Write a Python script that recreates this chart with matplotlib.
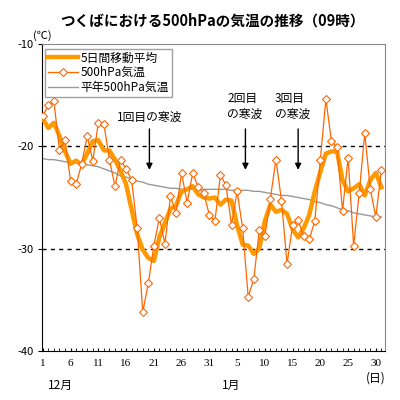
import matplotlib
matplotlib.use('Agg')
import matplotlib.pyplot as plt

plt.rcParams['font.family'] = ['Noto Sans CJK JP', 'DejaVu Sans']

title = 'つくばにおける500hPaの気温の推移（09時）'
tick_labels = ['1', '6', '11', '16', '21', '26', '31', '5', '10', '15', '20', '25', '30']
month_labels = ['12月', '1月']

# 500hPa temperature, Dec 1 .. Jan 31 (09 JST)
temp_500 = [-17.0, -16.0, -15.6, -20.4, -19.4, -23.4, -23.7, -21.7, -19.0, -21.4,
            -17.7, -17.8, -21.3, -23.9, -21.3, -22.2, -23.3, -28.0, -36.2, -33.4,
            -29.7, -27.0, -29.5, -24.9, -26.5, -22.6, -25.5, -22.6, -24.0, -24.6,
            -26.7, -27.3, -22.8, -23.8, -27.7, -24.4, -28.0, -34.7, -33.0, -28.2,
            -28.8, -25.1, -21.3, -25.3, -31.5, -27.7, -27.2, -28.8, -29.1, -27.3,
            -21.3, -15.4, -19.5, -20.1, -26.3, -21.1, -29.7, -24.6, -18.7, -24.2,
            -26.9, -22.3]

# 5-day running mean
ma5 = [-17.3, -18.2, -17.7, -19.0, -20.5, -21.7, -21.4, -21.8, -20.7, -19.5,
       -19.4, -20.4, -20.4, -21.3, -22.4, -23.7, -26.2, -28.6, -30.1, -30.9,
       -31.2, -28.9, -27.5, -26.1, -25.8, -24.4, -24.2, -23.9, -24.7, -25.0,
       -25.1, -25.0, -25.7, -25.2, -25.3, -27.7, -29.6, -29.7, -30.5, -30.0,
       -27.3, -25.7, -26.4, -26.2, -26.6, -28.1, -28.9, -28.0, -26.7, -24.4,
       -22.5, -20.7, -20.5, -20.5, -23.3, -24.4, -24.1, -23.7, -24.8, -23.3,
       -22.6, -24.0]

# climatological normal
normal = [-21.2, -21.3, -21.3, -21.4, -21.5, -21.6, -21.6, -21.7, -21.8, -21.9,
          -22.0, -22.2, -22.4, -22.6, -22.9, -23.0, -23.2, -23.4, -23.5, -23.7,
          -23.8, -23.9, -24.0, -24.1, -24.1, -24.2, -24.2, -24.2, -24.2, -24.2,
          -24.2, -24.2, -24.2, -24.2, -24.3, -24.3, -24.3, -24.3, -24.4, -24.4,
          -24.5, -24.6, -24.7, -24.8, -24.8, -24.9, -25.0, -25.1, -25.2, -25.4,
          -25.5, -25.7, -25.8, -26.0, -26.2, -26.3, -26.5, -26.6, -26.7, -26.8,
          -26.9, -26.9]

wave_labels = ['1回目の寒波', '2回目\nの寒波', '3回目\nの寒波']
wave_days = [19.2, 36.5, 46.0]

fig = plt.figure(figsize=(4, 4), dpi=100)
ax = fig.add_axes([0.105, 0.1225, 0.8575, 0.7675])
x = list(range(len(temp_500)))

ax.axhline(-20, color='black', lw=1, ls=(0, (3, 3)), zorder=1)
ax.axhline(-30, color='black', lw=1, ls=(0, (3, 3)), zorder=1)

ax.plot(x, ma5, color='#FF9900', lw=3.2, label='5日間移動平均', zorder=3,
        solid_joinstyle='round')
ax.plot(x, temp_500, color='#FF6600', lw=0.9, marker='D', ms=4.2,
        mfc='white', mec='#FF6600', mew=0.8, label='500hPa気温', zorder=4)
ax.plot(x, normal, color='#999999', lw=1, label='平年500hPa気温', zorder=2)

ax.set_xlim(-0.15, 61.65)
ax.set_ylim(-40, -10)
ax.set_yticks([-40, -30, -20, -10])
ax.set_yticklabels(['-40', '-30', '-20', '-10'], fontsize=8)
ax.set_xticks(range(0, 61, 5))
ax.set_xticklabels(tick_labels, fontsize=8, family=['Liberation Serif'])
ax.set_xticks(range(0, 62), minor=True)
ax.tick_params(axis='x', which='both', direction='in', length=2, pad=6)
ax.tick_params(axis='y', which='major', direction='out', length=3, pad=3)

for s in ['top', 'right']:
    ax.spines[s].set_color('#888888')
for s in ['left', 'bottom']:
    ax.spines[s].set_color('black')

leg = ax.legend(loc='upper left', bbox_to_anchor=(0.01, 0.985), fontsize=8.5,
                frameon=True, fancybox=False, edgecolor='#888888',
                handlelength=2.5, handletextpad=0.2, labelspacing=0.15,
                borderpad=0.25, borderaxespad=0)
leg.get_frame().set_linewidth(1)

# cold wave annotations
ax.text(wave_days[0], -17.2, wave_labels[0], ha='center', va='center', fontsize=8.5)
ax.text(33.2, -16.1, wave_labels[1], ha='left', va='center', fontsize=8.5, linespacing=1.3)
ax.text(41.8, -16.1, wave_labels[2], ha='left', va='center', fontsize=8.5, linespacing=1.3)
for d in wave_days:
    ax.annotate('', xy=(d, -22.3), xytext=(d, -18.3),
                arrowprops=dict(arrowstyle='-|>', color='black', lw=1,
                                mutation_scale=9, shrinkA=0, shrinkB=0))

fig.text(0.53, 0.9475, title, ha='center', va='center', fontsize=10.5, fontweight='bold')
fig.text(0.105, 0.912, '(℃)', ha='center', va='center', fontsize=8)
fig.text(0.15, 0.0375, month_labels[0], ha='center', va='center', fontsize=8.5)
fig.text(0.5775, 0.0375, month_labels[1], ha='center', va='center', fontsize=8.5)
fig.text(0.94, 0.055, '(日)', ha='center', va='center', fontsize=8.5)

fig.savefig('out.png', dpi=100)
